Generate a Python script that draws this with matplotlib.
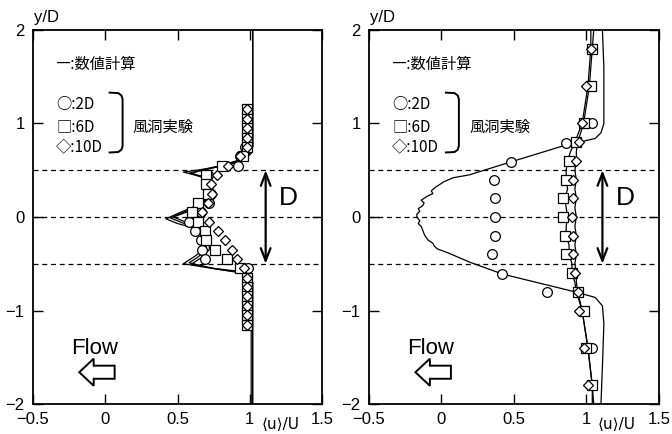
import numpy as np
import matplotlib
matplotlib.use('Agg')
import matplotlib.pyplot as plt
import matplotlib.patches as mpatches

plt.rcParams['font.family'] = ['Liberation Sans', 'Noto Sans CJK JP', 'DejaVu Sans']
plt.rcParams['axes.unicode_minus'] = True

# ---- left panel : measured points (y/D, <u>/U) ----
yL = [1.15, 1.05, 0.95, 0.85, 0.75, 0.65, 0.55, 0.45, 0.35, 0.25, 0.15, 0.05,
      -0.05, -0.15, -0.25, -0.35, -0.45, -0.55, -0.65, -0.75, -0.85, -0.95, -1.05, -1.15]
uL_2d = [0.98, 0.98, 0.98, 0.98, 0.97, 0.93, 0.92, 0.71, 0.72, 0.73, 0.72, 0.66,
         0.58, 0.62, 0.66, 0.67, 0.69, 0.99, 0.98, 0.98, 0.98, 0.98, 0.98, 0.98]
uL_6d = [0.98, 0.98, 0.98, 0.98, 0.98, 0.95, 0.81, 0.70, 0.70, 0.71, 0.64, 0.60,
         0.64, 0.69, 0.70, 0.76, 0.84, 0.93, 0.98, 0.98, 0.98, 0.98, 0.98, 0.98]
uL_10d = [0.98, 0.98, 0.98, 0.98, 0.98, 0.93, 0.85, 0.77, 0.73, 0.74, 0.71, 0.67,
          0.72, 0.78, 0.83, 0.88, 0.91, 0.96, 0.98, 0.98, 0.98, 0.98, 0.98, 0.98]

# left panel : computed profiles
yc1 = [2.0, 0.75, 0.68, 0.62, 0.57, 0.52, 0.48, 0.45, 0.42, 0.30, 0.20, 0.12, 0.05, -0.02,
       -0.07, -0.12, -0.20, -0.35, -0.42, -0.50, -0.54, -0.58, -0.62, -0.70, -2.0]
uc1 = [1.02, 1.02, 1.01, 0.97, 0.88, 0.72, 0.54, 0.62, 0.70, 0.71, 0.70, 0.63, 0.52, 0.42,
       0.50, 0.62, 0.68, 0.68, 0.62, 0.54, 0.70, 0.92, 0.99, 1.02, 1.02]
yc2 = [2.0, 0.75, 0.68, 0.62, 0.56, 0.50, 0.47, 0.44, 0.40, 0.30, 0.20, 0.12, 0.05, -0.01,
       -0.06, -0.12, -0.20, -0.35, -0.43, -0.49, -0.55, -0.59, -0.63, -0.70, -2.0]
uc2 = [1.02, 1.02, 1.00, 0.95, 0.84, 0.68, 0.58, 0.66, 0.72, 0.72, 0.71, 0.64, 0.54, 0.45,
       0.53, 0.64, 0.70, 0.70, 0.64, 0.58, 0.74, 0.93, 0.99, 1.01, 1.01]
yc3 = [2.0, 0.75, 0.68, 0.61, 0.55, 0.50, 0.46, 0.42, 0.38, 0.30, 0.20, 0.12, 0.05, 0.00,
       -0.05, -0.12, -0.20, -0.35, -0.44, -0.50, -0.56, -0.60, -0.64, -0.70, -2.0]
uc3 = [1.02, 1.02, 0.99, 0.93, 0.80, 0.65, 0.60, 0.68, 0.74, 0.73, 0.72, 0.66, 0.56, 0.47,
       0.55, 0.66, 0.72, 0.72, 0.66, 0.60, 0.78, 0.95, 1.00, 1.02, 1.02]

# ---- right panel : measured points ----
yR_2d = [1.0, 0.79, 0.59, 0.40, 0.20, 0.0, -0.20, -0.40, -0.61, -0.80, -1.40]
uR_2d = [1.04, 0.86, 0.48, 0.36, 0.37, 0.37, 0.37, 0.35, 0.42, 0.73, 1.04]
yR = [1.8, 1.4, 1.0, 0.8, 0.6, 0.4, 0.2, 0.0, -0.2, -0.4, -0.6, -0.8, -1.0, -1.4, -1.8]
uR_6d = [1.04, 1.03, 0.98, 0.93, 0.88, 0.86, 0.84, 0.84, 0.85, 0.86, 0.90, 0.94, 0.98, 1.00, 1.04]
uR_10d = [1.03, 1.00, 0.97, 0.95, 0.93, 0.91, 0.91, 0.90, 0.91, 0.91, 0.92, 0.94, 0.95, 0.98, 1.01]

# right panel : computed profiles
yA = [2.0, 1.6, 1.2, 1.0, 0.9, 0.84, 0.80, 0.78, 0.59, 0.45, 0.42, 0.38, 0.35, 0.32, 0.28,
      0.25, 0.22, 0.18, 0.15, 0.12, 0.09, 0.06, 0.03, 0.0, -0.04, -0.07, -0.10, -0.14, -0.18,
      -0.21, -0.25, -0.28, -0.31, -0.34, -0.38, -0.48, -0.61, -0.80, -0.86, -0.95, -1.14, -1.6, -2.0]
uA = [1.11, 1.12, 1.12, 1.12, 1.10, 1.06, 0.95, 0.88, 0.48, 0.19, 0.08, 0.02, -0.01, -0.04, -0.07,
      -0.06, -0.10, -0.14, -0.12, -0.13, -0.16, -0.15, -0.17, -0.17, -0.15, -0.16, -0.14, -0.13, -0.12,
      -0.11, -0.09, -0.06, -0.05, -0.03, 0.04, 0.19, 0.42, 0.92, 1.06, 1.11, 1.12, 1.11, 1.10]
yB = [2.0, 1.8, 1.4, 1.0, 0.8, 0.7, 0.6, 0.5, 0.4, 0.3, 0.2, 0.1, 0.0, -0.1, -0.2, -0.3,
      -0.4, -0.5, -0.6, -0.7, -0.8, -1.0, -1.4, -1.8, -2.0]
uB = [1.03, 1.03, 1.01, 0.97, 0.92, 0.89, 0.87, 0.86, 0.86, 0.87, 0.85, 0.86, 0.87, 0.86, 0.86, 0.88,
      0.88, 0.90, 0.90, 0.92, 0.93, 0.97, 1.01, 1.04, 1.04]
uC = [1.05, 1.04, 1.02, 0.98, 0.94, 0.93, 0.93, 0.92, 0.93, 0.92, 0.93, 0.92, 0.93, 0.92, 0.93, 0.92,
      0.93, 0.92, 0.93, 0.93, 0.94, 0.97, 1.01, 1.04, 1.05]

fs = 12
fig = plt.figure(figsize=(6.72, 4.34), dpi=100)
ax1 = fig.add_axes([0.0491, 0.0691, 0.4301, 0.8618])
ax2 = fig.add_axes([0.5491, 0.0691, 0.4315, 0.8618])

mk = dict(ls='none', mfc='white', mec='black', mew=0.9, zorder=4)

# left
for u, y in [(uc1, yc1), (uc2, yc2), (uc3, yc3)]:
    ax1.plot(u, y, color='black', lw=0.9, zorder=3)
ax1.plot(uL_2d, yL, marker='o', ms=7, **mk)
ax1.plot(uL_6d, yL, marker='s', ms=6.5, **mk)
ax1.plot(uL_10d, yL, marker='D', ms=5.5, **mk)

# right
ax2.plot(uA, yA, color='black', lw=0.9, zorder=3)
ax2.plot(uB, yB, color='black', lw=0.9, zorder=3)
ax2.plot(uC, yB, color='black', lw=0.9, zorder=3)
ax2.plot(uR_2d, yR_2d, marker='o', ms=7, **mk)
ax2.plot(uR_6d, yR, marker='s', ms=6.5, **mk)
ax2.plot(uR_10d, yR, marker='D', ms=5.5, **mk)

jp = ['Noto Sans CJK JP', 'DejaVu Sans']
for ax in [ax1, ax2]:
    ax.set_xlim(-0.5, 1.5)
    ax.set_ylim(-2, 2)
    ax.set_xticks([-0.5, 0, 0.5, 1, 1.5])
    ax.set_xticklabels(['−0.5', '0', '0.5', '1', '1.5'])
    ax.set_yticks([-2, -1, 0, 1, 2])
    ax.set_yticklabels(['−2', '−1', '0', '1', '2'])
    ax.tick_params(direction='in', top=True, right=True, length=7, width=1,
                   labelsize=fs, pad=6)
    for s in ax.spines.values():
        s.set_linewidth(1.3)
    for yy in [0.5, 0, -0.5]:
        ax.axhline(yy, color='black', ls=(0, (4, 3)), lw=0.9, zorder=2)

    # D arrow
    ax.annotate('', xy=(1.11, 0.5), xytext=(1.11, -0.5),
                arrowprops=dict(arrowstyle='<->,head_length=0.9,head_width=0.35',
                                lw=1.6, color='black', shrinkA=0, shrinkB=0))
    ax.text(1.2, 0.2, 'D', fontsize=19, va='center', ha='left')

    # legend text
    ax.text(-0.34, 1.63, '―:数値計算', fontsize=11, va='center', ha='left', family=jp)
    ax.text(-0.34, 1.20, '○:2D', fontsize=11, va='center', ha='left', family=jp)
    ax.text(-0.34, 0.97, '□:6D', fontsize=11, va='center', ha='left', family=jp)
    ax.text(-0.34, 0.75, '◇:10D', fontsize=11, va='center', ha='left', family=jp)
    ax.plot([0.03, 0.09, 0.112, 0.12, 0.12, 0.112, 0.09, 0.03],
            [1.33, 1.325, 1.30, 1.26, 0.76, 0.72, 0.695, 0.69], color='black', lw=1.4)
    ax.text(0.19, 0.96, '風洞実験', fontsize=11, va='center', ha='left', family=jp)

    # flow arrow
    ax.text(-0.235, -1.41, 'Flow', fontsize=16, va='center', ha='left')
    ax.add_patch(mpatches.FancyArrow(0.065, -1.66, -0.245, 0, width=0.14, head_width=0.29,
                                     head_length=0.1, length_includes_head=True,
                                     fc='white', ec='black', lw=1.4))

    ax.text(-0.49, 2.13, 'y/D', fontsize=12, va='center', ha='left', clip_on=False)
    ax.text(1.08, -2.22, '⟨u⟩/U', fontsize=11, va='center', ha='left', clip_on=False,
            family=['DejaVu Sans'])

plt.savefig('out.png', dpi=100)
